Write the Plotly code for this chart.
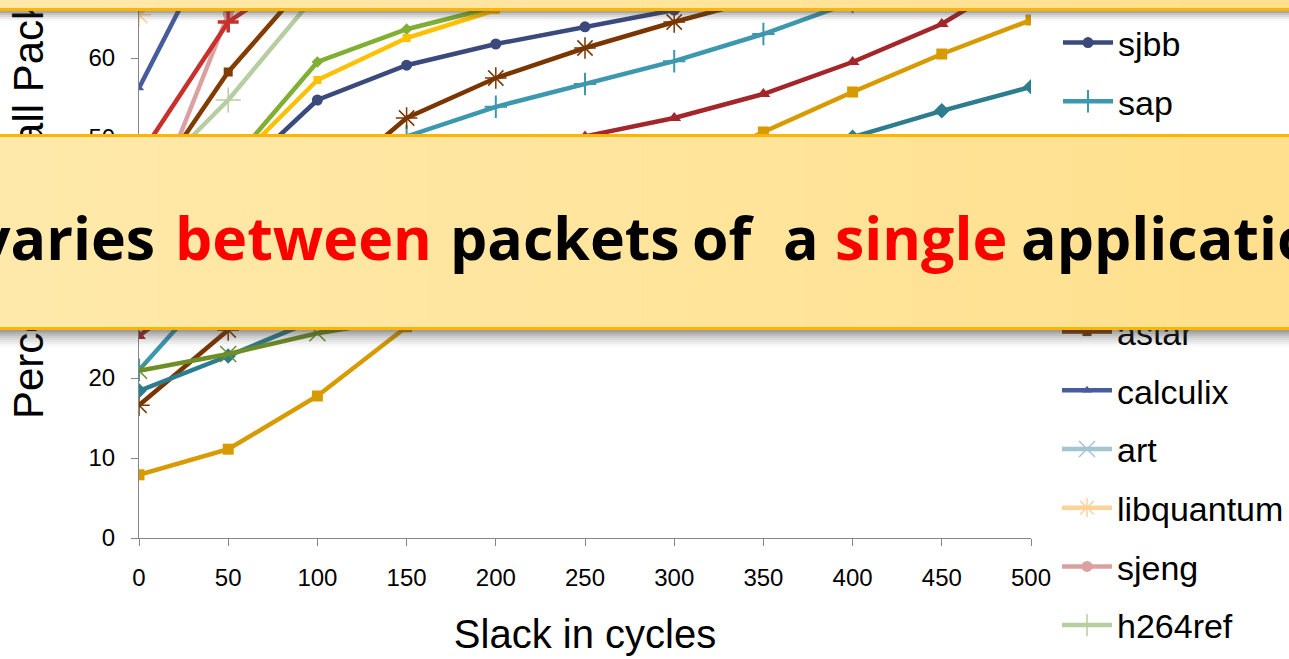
import plotly.graph_objects as go

# Slack values on the x axis (cycles)
slack = [0, 50, 100, 150, 200, 250, 300, 350, 400, 450, 500]

# Cumulative percentage of packets with slack below each value, per application
sjbb = [35.0, 44.3, 54.75, 59.1, 61.75, 63.9, 66.0, 68.0, 70.0, 72.0, 74.0]
sap = [21.0, 33.4, 42.0, 50.2, 53.9, 56.75, 59.6, 63.0, 67.0, 70.0, 73.0]
tpcc = [16.6, 26.0, 43.0, 52.5, 57.5, 61.25, 64.5, 67.5, 70.0, 72.0, 74.0]
gems = [25.25, 33.75, 38.5, 42.5, 46.5, 50.2, 52.5, 55.5, 59.5, 64.25, 71.0]
omnet = [7.9, 11.1, 17.75, 26.4, 33.0, 39.5, 45.5, 50.75, 55.75, 60.5, 64.75]
astar = [41.9, 58.25, 71.0, 76.0, 80.0, 83.0, 86.0, 88.0, 90.0, 92.0, 93.0]
calculix = [56.25, 78.0, 88.0, 92.0, 94.0, 95.0, 96.0, 97.0, 98.0, 98.5, 99.0]
art = [70.0, 80.0, 86.0, 90.0, 92.0, 94.0, 95.0, 96.0, 97.0, 98.0, 98.5]
libquantum = [65.4, 78.0, 85.0, 89.0, 92.0, 94.0, 95.0, 96.0, 97.0, 98.0, 98.5]
sjeng = [37.5, 65.5, 75.0, 80.0, 84.0, 87.0, 89.0, 91.0, 92.0, 93.0, 94.0]
h264ref = [43.5, 54.75, 68.1, 74.0, 78.0, 81.0, 84.0, 86.0, 88.0, 90.0, 91.0]
mcf = [18.4, 22.75, 27.4, 32.0, 36.3, 40.3, 44.0, 47.3, 50.1, 53.4, 56.4]
barnes = [20.9, 23.0, 25.6, 27.4, 29.5, 31.8, 34.2, 36.6, 39.0, 41.5, 44.0]
sphinx = [38.0, 46.5, 59.5, 63.6, 66.4, 69.0, 71.0, 73.0, 75.0, 77.0, 79.0]
deal = [37.0, 46.1, 57.25, 62.5, 66.0, 68.5, 71.0, 73.0, 75.0, 77.0, 79.0]
gcc = [47.6, 64.5, 72.0, 78.0, 82.0, 85.0, 87.0, 89.0, 91.0, 92.0, 93.0]

x_ticks = [0, 50, 100, 150, 200, 250, 300, 350, 400, 450, 500]
y_ticks = [0, 10, 20, 30, 40, 50, 60]

banner_words = ["varies", "between", "packets", "of", "a", "single", "application"]

# name, values, colour, marker symbol, marker size, marker line width, legend
series = [
    ("sjbb", sjbb, "#3B4A7C", "circle", 11, 0, "legend"),
    ("sap", sap, "#3D97AF", "cross-thin-open", 16, 2, "legend"),
    ("tpcc", tpcc, "#7A3600", "asterisk-open", 18, 1.5, "legend"),
    ("Gems", gems, "#A3262A", "triangle-up", 12, 0, "legend"),
    ("omnet", omnet, "#D79B00", "square", 11, 0, "legend"),
    ("astar", astar, "#823C00", "square", 9, 0, "legend2"),
    ("calculix", calculix, "#475D9B", "triangle-up", 9, 0, "legend2"),
    ("art", art, "#A5C4D2", "x-thin-open", 18, 1.5, "legend2"),
    ("libquantum", libquantum, "#FDD39C", "asterisk-open", 20, 1.5, "legend2"),
    ("sjeng", sjeng, "#DBA0A0", "circle", 11, 0, "legend2"),
    ("h264ref", h264ref, "#B8CDA2", "cross-thin-open", 18, 1.5, "legend2"),
    ("mcf", mcf, "#2E7D8E", "diamond", 12, 0, None),
    ("barnes", barnes, "#6E8E26", "x-thin-open", 16, 1.5, None),
    ("sphinx", sphinx, "#80AF34", "diamond", 9, 0, None),
    ("deal", deal, "#FFC000", "square", 8, 0, None),
    ("gcc", gcc, "#C8302C", "cross-thin-open", 15, 3.5, None),
]

fig = go.Figure()
for name, vals, color, symbol, size, lw, leg in series:
    marker = dict(symbol=symbol, size=size, color=color)
    if lw:
        marker["line"] = dict(color=color, width=lw)
    fig.add_trace(go.Scatter(
        x=slack, y=vals, name=name, mode="lines+markers",
        line=dict(color=color, width=4.5), marker=marker,
        legendgroup=name, showlegend=leg is not None,
        legend=leg if leg else "legend",
    ))

W, H = 1289, 659
L, R, T, B = 139, 1032, 0, 538


def px_x(px):
    return (px - L) / (R - L)


def px_y(py):
    return (B - py) / (B - T)


annotations = []

# y axis title, placed along the left edge
annotations.append(dict(
    text="Percentage of all Packets", textangle=-90, showarrow=False,
    xref="paper", yref="paper", x=px_x(28), y=px_y(421),
    xanchor="center", yanchor="bottom",
    font=dict(family="Liberation Sans, Arial", size=42, color="#000000"),
))


def box(x0, x1, y0, y1, color):
    annotations.append(dict(
        text=" ", showarrow=False, xref="paper", yref="paper",
        x=px_x(x0), y=px_y(y0), xanchor="left", yanchor="top",
        width=x1 - x0, height=y1 - y0, bgcolor=color,
        borderpad=0, borderwidth=0, font=dict(size=1),
    ))


def mix(c0, c1, t):
    return "rgb(%d,%d,%d)" % tuple(round(a + (b - a) * t) for a, b in zip(c0, c1))


left_col, right_col = (255, 233, 170), (255, 224, 142)
n_strips = 24
strip_w = W / n_strips


def banner(y_top, y_bottom, border_top, border_bottom, shadow_len, shadow_alpha):
    for i in range(n_strips):
        x0 = round(i * strip_w) - 2
        x1 = round((i + 1) * strip_w) + 1
        box(x0, x1, y_top, y_bottom, mix(left_col, right_col, i / (n_strips - 1)))
    if border_top:
        box(-5, W + 5, y_top - 3, y_top, "#FFB400")
    box(-5, W + 5, y_bottom, y_bottom + 3, "#FFB400")
    steps = shadow_len // 2
    for k in range(steps):
        a = shadow_alpha * (1 - k / steps) ** 1.6
        y0 = y_bottom + 3 + 2 * k
        box(-5, W + 5, y0, y0 + 2, "rgba(60,60,60,%.3f)" % a)


banner(-10, 8, False, True, 10, 0.45)
banner(137, 327, True, True, 18, 0.5)

# banner caption, word by word
word_pos = [(156, "right", "#000000"), (174, "left", "#FF0000"),
            (449, "left", "#000000"), (692, "left", "#000000"),
            (783, "left", "#000000"), (835, "left", "#FF0000"),
            (1021, "left", "#000000")]
for word, (px, anchor, col) in zip(banner_words, word_pos):
    annotations.append(dict(
        text=word, showarrow=False, xref="paper", yref="paper",
        x=px_x(px), y=px_y(237), xanchor=anchor, yanchor="middle",
        borderpad=0,
        font=dict(family="Open Sans", size=59, color=col, weight="bold"),
    ))

axis_font = dict(family="Liberation Sans, Arial", size=24, color="#000000")
legend_font = dict(family="Liberation Sans, Arial", size=34, color="#000000")

fig.update_layout(
    width=W, height=H,
    margin=dict(l=L, r=W - R, t=T, b=H - B, pad=0),
    paper_bgcolor="white", plot_bgcolor="white",
    showlegend=True,
    legend=dict(x=px_x(1058), y=px_y(14), xanchor="left", yanchor="top",
                font=legend_font, itemwidth=50, tracegroupgap=11.5,
                bgcolor="rgba(0,0,0,0)"),
    legend2=dict(x=px_x(1058), y=px_y(303), xanchor="left", yanchor="top",
                 font=legend_font, itemwidth=50, tracegroupgap=11.5,
                 bgcolor="rgba(0,0,0,0)"),
    xaxis=dict(range=[0, 500], tickvals=x_ticks, ticks="outside", ticklen=7,
               tickcolor="#868686", showline=True, linecolor="#868686",
               linewidth=1, showgrid=False, zeroline=False,
               tickfont=axis_font, ticklabelstandoff=11,
               title=dict(text="Slack in cycles", standoff=30,
                          font=dict(family="Liberation Sans, Arial", size=40,
                                    color="#000000"))),
    yaxis=dict(range=[0, 67.25], tickvals=y_ticks, ticks="outside", ticklen=7,
               tickcolor="#868686", showline=True, linecolor="#868686",
               linewidth=1, showgrid=False, zeroline=False,
               tickfont=axis_font, ticklabelstandoff=11),
    annotations=annotations,
)

fig.write_html("out.html")
